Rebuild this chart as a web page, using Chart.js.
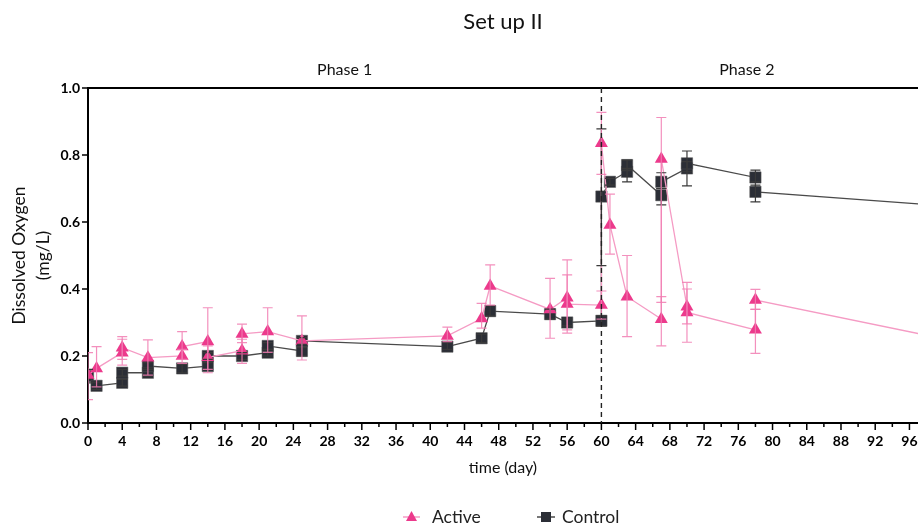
<!DOCTYPE html>
<html><head><meta charset="utf-8">
<script src="https://cdn.jsdelivr.net/npm/chart.js@4.4.1/dist/chart.umd.min.js"></script>
<style>html,body{margin:0;padding:0;background:#fff}</style>
</head><body>
<canvas id="c" width="918" height="524"></canvas>
<script>
// ---- data ----
const activeDays   = [0,1,4,4,7,11,11,14,14,18,18,21,25,42,46,47,54,56,56,60,60,61,63,67,67,70,70,78,78,98];
const activeValues = [0.143,0.163,0.21,0.225,0.195,0.2,0.228,0.243,0.196,0.216,0.266,0.273,0.245,0.26,0.312,0.409,0.339,0.374,0.355,0.352,0.835,0.591,0.377,0.31,0.788,0.347,0.33,0.278,0.367,0.262];
const activeLow    = [0.07,0.108,0.173,0.19,0.143,0.178,0.19,0.15,0.16,0.178,0.24,0.211,0.188,0.243,0.283,0.352,0.253,0.268,0.278,0.31,0.742,0.504,0.258,0.23,0.36,0.296,0.241,0.208,0.339,0.2];
const activeHigh   = [0.21,0.228,0.25,0.258,0.248,0.22,0.273,0.344,0.23,0.25,0.295,0.344,0.32,0.286,0.357,0.472,0.432,0.487,0.442,0.394,0.927,0.683,0.5,0.377,0.912,0.4,0.42,0.339,0.399,0.33];

const controlDays   = [0,1,4,4,7,7,11,14,14,18,21,21,25,25,42,46,47,54,56,60,60,61,63,63,67,67,70,70,78,78,98];
const controlValues = [0.14,0.111,0.12,0.15,0.15,0.17,0.163,0.17,0.2,0.2,0.21,0.23,0.215,0.245,0.228,0.253,0.334,0.325,0.3,0.305,0.676,0.72,0.75,0.77,0.68,0.72,0.76,0.775,0.733,0.69,0.652];
const controlLow    = [0.12,0.1,0.11,0.14,0.14,0.16,0.15,0.16,0.19,0.19,0.2,0.22,0.2,0.235,0.22,0.24,0.32,0.31,0.29,0.29,0.47,0.71,0.72,0.755,0.651,0.7,0.708,0.75,0.72,0.66,0.62];
const controlHigh   = [0.16,0.122,0.13,0.16,0.165,0.18,0.175,0.18,0.21,0.21,0.22,0.24,0.225,0.255,0.24,0.265,0.35,0.34,0.31,0.32,0.878,0.73,0.76,0.785,0.7,0.747,0.78,0.812,0.755,0.71,0.69];

const xTickStep = 2;        // minor tick spacing (days)
const xLabelStep = 4;       // labelled tick spacing (days)
const yTicks = [0,0.2,0.4,0.6,0.8,1.0];
const phaseLabels = [{text:'Phase 1', day:30}, {text:'Phase 2', day:77}];
const phaseBoundary = 60;
const seriesNames = ['Active','Control'];

const PINK = '#ec3a8c', PINK_LINE = '#f59bc4', PINK_ERR = 'rgba(241,125,178,0.85)';
const DARK = '#2b2e36', DARK_LINE = '#4a4a4a', DARK_ERR = '#3a3a3a';
const FONT = 'Lato, "Open Sans", sans-serif';

const toPts = (xs, ys) => xs.map((d, i) => ({x: d, y: ys[i]}));

const decor = {
  id: 'decor',
  afterDatasetsDraw(chart) {
    const {ctx, chartArea: a, scales: {x, y}} = chart;
    const drawErr = (days, lo, hi, col) => {
      ctx.strokeStyle = col; ctx.lineWidth = 1.2;
      days.forEach((d, i) => {
        const px = x.getPixelForValue(d), p1 = y.getPixelForValue(lo[i]), p2 = y.getPixelForValue(hi[i]);
        ctx.beginPath();
        ctx.moveTo(px, p1); ctx.lineTo(px, p2);
        ctx.moveTo(px - 5, p1); ctx.lineTo(px + 5, p1);
        ctx.moveTo(px - 5, p2); ctx.lineTo(px + 5, p2);
        ctx.stroke();
      });
    };
    ctx.save();
    ctx.beginPath(); ctx.rect(a.left, a.top - 10, a.right - a.left, a.bottom - a.top + 10); ctx.clip();
    drawErr(controlDays, controlLow, controlHigh, DARK_ERR);
    drawErr(activeDays, activeLow, activeHigh, PINK_ERR);
    ctx.restore();
  },
  afterDraw(chart) {
    const {ctx, chartArea: a, scales: {x, y}} = chart;
    ctx.save();
    // top line at 1.0
    ctx.strokeStyle = '#000'; ctx.lineWidth = 2;
    ctx.beginPath(); ctx.moveTo(a.left, y.getPixelForValue(1)); ctx.lineTo(a.right, y.getPixelForValue(1)); ctx.stroke();
    // x ticks
    ctx.lineWidth = 1.5;
    for (let d = 0; d <= x.max; d += xTickStep) {
      const px = x.getPixelForValue(d);
      const len = (d % xLabelStep === 0) ? 7 : 4;
      ctx.beginPath(); ctx.moveTo(px, a.bottom); ctx.lineTo(px, a.bottom + len); ctx.stroke();
    }
    // y ticks
    yTicks.forEach(v => {
      const py = y.getPixelForValue(v);
      ctx.beginPath(); ctx.moveTo(a.left, py); ctx.lineTo(a.left - 6, py); ctx.stroke();
    });
    // phase boundary
    ctx.setLineDash([5, 4]); ctx.strokeStyle = '#222'; ctx.lineWidth = 1.4;
    const bx = x.getPixelForValue(phaseBoundary);
    ctx.beginPath(); ctx.moveTo(bx, a.top); ctx.lineTo(bx, a.bottom); ctx.stroke();
    ctx.setLineDash([]);
    // phase labels
    ctx.fillStyle = '#111'; ctx.font = '16px ' + FONT; ctx.textAlign = 'center'; ctx.textBaseline = 'middle';
    phaseLabels.forEach(p => ctx.fillText(p.text, x.getPixelForValue(p.day), 70));
    // legend
    const ly = 517;
    ctx.font = '17.5px ' + FONT; ctx.textAlign = 'left';
    ctx.strokeStyle = PINK_LINE; ctx.lineWidth = 1.5;
    ctx.beginPath(); ctx.moveTo(403, ly); ctx.lineTo(420, ly); ctx.stroke();
    ctx.fillStyle = PINK; ctx.beginPath();
    ctx.moveTo(411.5, ly - 6); ctx.lineTo(417, ly + 4); ctx.lineTo(406, ly + 4); ctx.closePath(); ctx.fill();
    ctx.fillStyle = '#222'; ctx.fillText(seriesNames[0], 432, ly);
    ctx.strokeStyle = DARK_LINE;
    ctx.beginPath(); ctx.moveTo(537, ly); ctx.lineTo(555, ly); ctx.stroke();
    ctx.fillStyle = DARK; ctx.fillRect(541, ly - 5, 10, 10);
    ctx.fillStyle = '#222'; ctx.fillText(seriesNames[1], 562, ly);
    ctx.restore();
  }
};

new Chart(document.getElementById('c'), {
  type: 'scatter',
  data: {
    datasets: [
      {label: seriesNames[0], data: toPts(activeDays, activeValues), showLine: true,
       borderColor: PINK_LINE, borderWidth: 1.3, pointStyle: 'triangle', pointRadius: 7.5,
       pointBackgroundColor: PINK, pointBorderColor: PINK, pointBorderWidth: 0, tension: 0},
      {label: seriesNames[1], data: toPts(controlDays, controlValues), showLine: true,
       borderColor: DARK_LINE, borderWidth: 1.3, pointStyle: 'rect', pointRadius: 8,
       pointBackgroundColor: DARK, pointBorderColor: '#555', pointBorderWidth: 0.5, tension: 0}
    ]
  },
  options: {
    responsive: false, animation: false, devicePixelRatio: 1,
    layout: {autoPadding: false, padding: {left: 0, right: 0, top: 0, bottom: 46}},
    plugins: {
      legend: {display: false},
      tooltip: {enabled: false},
      title: {display: true, fullSize: false, text: 'Set up II', color: '#111', font: {family: FONT, size: 22, weight: 'normal'},
              padding: {top: 9, bottom: 52.6}}
    },
    scales: {
      x: {type: 'linear', min: 0, max: 97,
          grid: {display: true, drawOnChartArea: false, drawTicks: false},
          border: {display: true, color: '#000', width: 2},
          ticks: {stepSize: xLabelStep, includeBounds: false, padding: 10, color: '#000', maxRotation: 0, autoSkip: false,
                  font: {family: FONT, size: 14, weight: 'bold'}},
          title: {display: true, text: 'time (day)', color: '#111', font: {family: FONT, size: 16}, padding: {top: 0, bottom: 1}},
          afterFit: s => { s.height = 55; s.paddingRight = 0; s.paddingLeft = 0; }},
      y: {min: 0, max: 1,
          grid: {display: true, drawOnChartArea: false, drawTicks: false},
          border: {display: true, color: '#000', width: 2},
          ticks: {stepSize: 0.2, padding: 8, color: '#000', font: {family: FONT, size: 14, weight: 'bold'},
                  callback: v => Number(v).toFixed(1)},
          title: {display: true, text: ['Dissolved Oxygen', '(mg/L)'], color: '#111',
                  font: {family: FONT, size: 17.5, lineHeight: 1.4}, padding: {top: 7, bottom: 0}},
          afterFit: s => { s.width = 88; s.paddingTop = 0; s.paddingBottom = 0; }}
    }
  },
  plugins: [decor]
});
</script>
</body></html>
